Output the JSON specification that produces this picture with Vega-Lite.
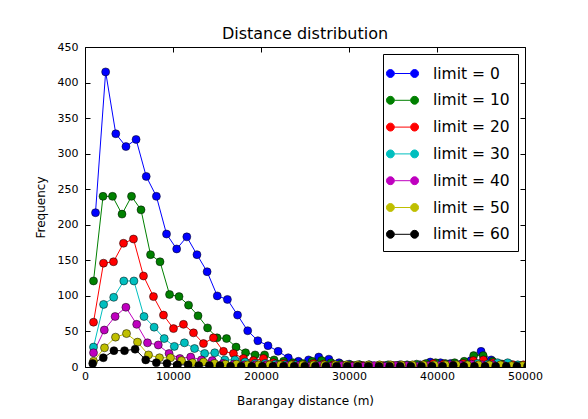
{
  "$schema": "https://vega.github.io/schema/vega-lite/v6.json",
  "width": 440,
  "height": 320,
  "autosize": "none",
  "padding": {"left": 85, "top": 47, "right": 63, "bottom": 52},
  "background": "white",
  "title": {"text": "Distance distribution", "fontSize": 16, "font": "DejaVu Sans", "fontWeight": "normal", "color": "black", "offset": -1},
  "config": {
    "view": {"stroke": "black", "strokeWidth": 1},
    "axis": {"labelFont": "DejaVu Sans", "titleFont": "DejaVu Sans", "labelColor": "black", "titleColor": "black", "tickColor": "black", "labelFontSize": 11, "titleFontSize": 12, "titleFontWeight": "normal", "grid": false, "domain": false, "labelOverlap": false, "labelFlush": false}
  },
  "data": {"values": [
{"s":"limit = 0","x":1193,"y":217},{"s":"limit = 0","x":2346,"y":415},{"s":"limit = 0","x":3499,"y":328},{"s":"limit = 0","x":4652,"y":310},{"s":"limit = 0","x":5805,"y":320},{"s":"limit = 0","x":6958,"y":268},{"s":"limit = 0","x":8111,"y":240},{"s":"limit = 0","x":9264,"y":187},{"s":"limit = 0","x":10417,"y":166},{"s":"limit = 0","x":11570,"y":183},{"s":"limit = 0","x":12723,"y":158},{"s":"limit = 0","x":13876,"y":134},{"s":"limit = 0","x":15029,"y":100},{"s":"limit = 0","x":16182,"y":95},{"s":"limit = 0","x":17335,"y":73},{"s":"limit = 0","x":18488,"y":51},{"s":"limit = 0","x":19641,"y":37},{"s":"limit = 0","x":20794,"y":30},{"s":"limit = 0","x":21947,"y":22},{"s":"limit = 0","x":23100,"y":13},{"s":"limit = 0","x":24253,"y":8},{"s":"limit = 0","x":25406,"y":10},{"s":"limit = 0","x":26559,"y":14},{"s":"limit = 0","x":27712,"y":11},{"s":"limit = 0","x":28865,"y":6},{"s":"limit = 0","x":30018,"y":4},{"s":"limit = 0","x":31171,"y":3},{"s":"limit = 0","x":32324,"y":3},{"s":"limit = 0","x":33477,"y":2},{"s":"limit = 0","x":34630,"y":2},{"s":"limit = 0","x":35783,"y":3},{"s":"limit = 0","x":36936,"y":2},{"s":"limit = 0","x":38089,"y":3},{"s":"limit = 0","x":39242,"y":7},{"s":"limit = 0","x":40395,"y":6},{"s":"limit = 0","x":41548,"y":5},{"s":"limit = 0","x":42701,"y":4},{"s":"limit = 0","x":43854,"y":9},{"s":"limit = 0","x":45007,"y":22},{"s":"limit = 0","x":46160,"y":10},{"s":"limit = 0","x":47313,"y":4},{"s":"limit = 0","x":48466,"y":3},{"s":"limit = 0","x":49619,"y":2},{"s":"limit = 0","x":50772,"y":2},
{"s":"limit = 10","x":966,"y":121},{"s":"limit = 10","x":2046,"y":240},{"s":"limit = 10","x":3126,"y":240},{"s":"limit = 10","x":4206,"y":215},{"s":"limit = 10","x":5286,"y":240},{"s":"limit = 10","x":6366,"y":221},{"s":"limit = 10","x":7446,"y":158},{"s":"limit = 10","x":8526,"y":148},{"s":"limit = 10","x":9606,"y":102},{"s":"limit = 10","x":10686,"y":99},{"s":"limit = 10","x":11766,"y":87},{"s":"limit = 10","x":12846,"y":72},{"s":"limit = 10","x":13926,"y":55},{"s":"limit = 10","x":15006,"y":41},{"s":"limit = 10","x":16086,"y":40},{"s":"limit = 10","x":17166,"y":28},{"s":"limit = 10","x":18246,"y":20},{"s":"limit = 10","x":19326,"y":17},{"s":"limit = 10","x":20406,"y":17},{"s":"limit = 10","x":21486,"y":10},{"s":"limit = 10","x":22566,"y":8},{"s":"limit = 10","x":23646,"y":6},{"s":"limit = 10","x":24726,"y":5},{"s":"limit = 10","x":25806,"y":8},{"s":"limit = 10","x":26886,"y":9},{"s":"limit = 10","x":27966,"y":6},{"s":"limit = 10","x":29046,"y":4},{"s":"limit = 10","x":30126,"y":3},{"s":"limit = 10","x":31206,"y":3},{"s":"limit = 10","x":32286,"y":2},{"s":"limit = 10","x":33366,"y":2},{"s":"limit = 10","x":34446,"y":3},{"s":"limit = 10","x":35526,"y":2},{"s":"limit = 10","x":36606,"y":3},{"s":"limit = 10","x":37686,"y":4},{"s":"limit = 10","x":38766,"y":5},{"s":"limit = 10","x":39846,"y":6},{"s":"limit = 10","x":40926,"y":5},{"s":"limit = 10","x":42006,"y":6},{"s":"limit = 10","x":43086,"y":8},{"s":"limit = 10","x":44166,"y":16},{"s":"limit = 10","x":45246,"y":16},{"s":"limit = 10","x":46326,"y":8},{"s":"limit = 10","x":47406,"y":4},{"s":"limit = 10","x":48486,"y":3},{"s":"limit = 10","x":49566,"y":2},{"s":"limit = 10","x":50646,"y":2},
{"s":"limit = 20","x":966,"y":63},{"s":"limit = 20","x":2102,"y":146},{"s":"limit = 20","x":3238,"y":148},{"s":"limit = 20","x":4374,"y":174},{"s":"limit = 20","x":5510,"y":180},{"s":"limit = 20","x":6646,"y":128},{"s":"limit = 20","x":7782,"y":99},{"s":"limit = 20","x":8918,"y":73},{"s":"limit = 20","x":10054,"y":54},{"s":"limit = 20","x":11190,"y":60},{"s":"limit = 20","x":12326,"y":48},{"s":"limit = 20","x":13462,"y":33},{"s":"limit = 20","x":14598,"y":41},{"s":"limit = 20","x":15734,"y":22},{"s":"limit = 20","x":16870,"y":19},{"s":"limit = 20","x":18006,"y":12},{"s":"limit = 20","x":19142,"y":9},{"s":"limit = 20","x":20278,"y":12},{"s":"limit = 20","x":21414,"y":6},{"s":"limit = 20","x":22550,"y":5},{"s":"limit = 20","x":23686,"y":4},{"s":"limit = 20","x":24822,"y":3},{"s":"limit = 20","x":25958,"y":5},{"s":"limit = 20","x":27094,"y":4},{"s":"limit = 20","x":28230,"y":3},{"s":"limit = 20","x":29366,"y":2},{"s":"limit = 20","x":30502,"y":2},{"s":"limit = 20","x":31638,"y":2},{"s":"limit = 20","x":32774,"y":1},{"s":"limit = 20","x":33910,"y":2},{"s":"limit = 20","x":35046,"y":2},{"s":"limit = 20","x":36182,"y":2},{"s":"limit = 20","x":37318,"y":2},{"s":"limit = 20","x":38454,"y":3},{"s":"limit = 20","x":39590,"y":5},{"s":"limit = 20","x":40726,"y":4},{"s":"limit = 20","x":41862,"y":3},{"s":"limit = 20","x":42998,"y":5},{"s":"limit = 20","x":44134,"y":9},{"s":"limit = 20","x":45270,"y":10},{"s":"limit = 20","x":46406,"y":6},{"s":"limit = 20","x":47542,"y":3},{"s":"limit = 20","x":48678,"y":3},{"s":"limit = 20","x":49814,"y":3},{"s":"limit = 20","x":50950,"y":2},
{"s":"limit = 30","x":966,"y":28},{"s":"limit = 30","x":2114,"y":88},{"s":"limit = 30","x":3262,"y":98},{"s":"limit = 30","x":4410,"y":121},{"s":"limit = 30","x":5558,"y":121},{"s":"limit = 30","x":6706,"y":71},{"s":"limit = 30","x":7854,"y":56},{"s":"limit = 30","x":9002,"y":40},{"s":"limit = 30","x":10150,"y":29},{"s":"limit = 30","x":11298,"y":34},{"s":"limit = 30","x":12446,"y":26},{"s":"limit = 30","x":13594,"y":19},{"s":"limit = 30","x":14742,"y":20},{"s":"limit = 30","x":15890,"y":10},{"s":"limit = 30","x":17038,"y":10},{"s":"limit = 30","x":18186,"y":7},{"s":"limit = 30","x":19334,"y":5},{"s":"limit = 30","x":20482,"y":5},{"s":"limit = 30","x":21630,"y":4},{"s":"limit = 30","x":22778,"y":3},{"s":"limit = 30","x":23926,"y":3},{"s":"limit = 30","x":25074,"y":2},{"s":"limit = 30","x":26222,"y":2},{"s":"limit = 30","x":27370,"y":2},{"s":"limit = 30","x":28518,"y":2},{"s":"limit = 30","x":29666,"y":1},{"s":"limit = 30","x":30814,"y":2},{"s":"limit = 30","x":31962,"y":1},{"s":"limit = 30","x":33110,"y":1},{"s":"limit = 30","x":34258,"y":2},{"s":"limit = 30","x":35406,"y":1},{"s":"limit = 30","x":36554,"y":2},{"s":"limit = 30","x":37702,"y":2},{"s":"limit = 30","x":38850,"y":2},{"s":"limit = 30","x":39998,"y":3},{"s":"limit = 30","x":41146,"y":3},{"s":"limit = 30","x":42294,"y":2},{"s":"limit = 30","x":43442,"y":3},{"s":"limit = 30","x":44590,"y":5},{"s":"limit = 30","x":45738,"y":4},{"s":"limit = 30","x":46886,"y":6},{"s":"limit = 30","x":48034,"y":6},{"s":"limit = 30","x":49182,"y":3},{"s":"limit = 30","x":50330,"y":2},
{"s":"limit = 40","x":966,"y":20},{"s":"limit = 40","x":2193,"y":52},{"s":"limit = 40","x":3420,"y":71},{"s":"limit = 40","x":4647,"y":84},{"s":"limit = 40","x":5874,"y":60},{"s":"limit = 40","x":7101,"y":34},{"s":"limit = 40","x":8328,"y":31},{"s":"limit = 40","x":9555,"y":19},{"s":"limit = 40","x":10782,"y":12},{"s":"limit = 40","x":12009,"y":14},{"s":"limit = 40","x":13236,"y":10},{"s":"limit = 40","x":14463,"y":9},{"s":"limit = 40","x":15690,"y":5},{"s":"limit = 40","x":16917,"y":4},{"s":"limit = 40","x":18144,"y":3},{"s":"limit = 40","x":19371,"y":3},{"s":"limit = 40","x":20598,"y":3},{"s":"limit = 40","x":21825,"y":2},{"s":"limit = 40","x":23052,"y":2},{"s":"limit = 40","x":24279,"y":2},{"s":"limit = 40","x":25506,"y":1},{"s":"limit = 40","x":26733,"y":2},{"s":"limit = 40","x":27960,"y":1},{"s":"limit = 40","x":29187,"y":2},{"s":"limit = 40","x":30414,"y":1},{"s":"limit = 40","x":31641,"y":1},{"s":"limit = 40","x":32868,"y":2},{"s":"limit = 40","x":34095,"y":1},{"s":"limit = 40","x":35322,"y":2},{"s":"limit = 40","x":36549,"y":2},{"s":"limit = 40","x":37776,"y":1},{"s":"limit = 40","x":39003,"y":2},{"s":"limit = 40","x":40230,"y":2},{"s":"limit = 40","x":41457,"y":3},{"s":"limit = 40","x":42684,"y":3},{"s":"limit = 40","x":43911,"y":4},{"s":"limit = 40","x":45138,"y":3},{"s":"limit = 40","x":46365,"y":3},{"s":"limit = 40","x":47592,"y":2},{"s":"limit = 40","x":48819,"y":1},{"s":"limit = 40","x":50046,"y":1},
{"s":"limit = 50","x":966,"y":8},{"s":"limit = 50","x":2216,"y":27},{"s":"limit = 50","x":3466,"y":42},{"s":"limit = 50","x":4716,"y":47},{"s":"limit = 50","x":5966,"y":35},{"s":"limit = 50","x":7216,"y":17},{"s":"limit = 50","x":8466,"y":13},{"s":"limit = 50","x":9716,"y":13},{"s":"limit = 50","x":10966,"y":9},{"s":"limit = 50","x":12216,"y":6},{"s":"limit = 50","x":13466,"y":7},{"s":"limit = 50","x":14716,"y":5},{"s":"limit = 50","x":15966,"y":4},{"s":"limit = 50","x":17216,"y":4},{"s":"limit = 50","x":18466,"y":3},{"s":"limit = 50","x":19716,"y":3},{"s":"limit = 50","x":20966,"y":3},{"s":"limit = 50","x":22216,"y":3},{"s":"limit = 50","x":23466,"y":3},{"s":"limit = 50","x":24716,"y":3},{"s":"limit = 50","x":25966,"y":3},{"s":"limit = 50","x":27216,"y":3},{"s":"limit = 50","x":28466,"y":3},{"s":"limit = 50","x":29716,"y":3},{"s":"limit = 50","x":30966,"y":3},{"s":"limit = 50","x":32216,"y":3},{"s":"limit = 50","x":33466,"y":3},{"s":"limit = 50","x":34716,"y":3},{"s":"limit = 50","x":35966,"y":3},{"s":"limit = 50","x":37216,"y":3},{"s":"limit = 50","x":38466,"y":3},{"s":"limit = 50","x":39716,"y":3},{"s":"limit = 50","x":40966,"y":3},{"s":"limit = 50","x":42216,"y":3},{"s":"limit = 50","x":43466,"y":3},{"s":"limit = 50","x":44716,"y":3},{"s":"limit = 50","x":45966,"y":3},{"s":"limit = 50","x":47216,"y":3},{"s":"limit = 50","x":48466,"y":2},{"s":"limit = 50","x":49716,"y":2},{"s":"limit = 50","x":50966,"y":2},
{"s":"limit = 60","x":875,"y":5},{"s":"limit = 60","x":2080,"y":13},{"s":"limit = 60","x":3285,"y":23},{"s":"limit = 60","x":4490,"y":23},{"s":"limit = 60","x":5695,"y":25},{"s":"limit = 60","x":6900,"y":10},{"s":"limit = 60","x":8105,"y":6},{"s":"limit = 60","x":9310,"y":5},{"s":"limit = 60","x":10515,"y":3},{"s":"limit = 60","x":11720,"y":3},{"s":"limit = 60","x":12925,"y":2},{"s":"limit = 60","x":14130,"y":2},{"s":"limit = 60","x":15335,"y":2},{"s":"limit = 60","x":16540,"y":1},{"s":"limit = 60","x":17745,"y":1},{"s":"limit = 60","x":18950,"y":1},{"s":"limit = 60","x":20155,"y":1},{"s":"limit = 60","x":21360,"y":1},{"s":"limit = 60","x":22565,"y":1},{"s":"limit = 60","x":23770,"y":1},{"s":"limit = 60","x":24975,"y":1},{"s":"limit = 60","x":26180,"y":1},{"s":"limit = 60","x":27385,"y":1},{"s":"limit = 60","x":28590,"y":1},{"s":"limit = 60","x":29795,"y":1},{"s":"limit = 60","x":31000,"y":1},{"s":"limit = 60","x":32205,"y":1},{"s":"limit = 60","x":33410,"y":1},{"s":"limit = 60","x":34615,"y":1},{"s":"limit = 60","x":35820,"y":1},{"s":"limit = 60","x":37025,"y":1},{"s":"limit = 60","x":38230,"y":1},{"s":"limit = 60","x":39435,"y":1},{"s":"limit = 60","x":40640,"y":1},{"s":"limit = 60","x":41845,"y":2},{"s":"limit = 60","x":43050,"y":1},{"s":"limit = 60","x":44255,"y":1},{"s":"limit = 60","x":45460,"y":1},{"s":"limit = 60","x":46665,"y":1},{"s":"limit = 60","x":47870,"y":1},{"s":"limit = 60","x":49075,"y":1},{"s":"limit = 60","x":50280,"y":1}
  ]},
  "layer": [
    {
      "mark": {"type": "line", "strokeWidth": 1, "clip": true},
      "encoding": {
        "x": {"field": "x", "type": "quantitative", "scale": {"domain": [0, 50000], "nice": false, "zero": false},
              "axis": {"orient": "bottom", "values": [0, 10000, 20000, 30000, 40000, 50000], "format": "d", "title": "Barangay distance (m)", "tickSize": -5, "labelPadding": 8, "titlePadding": 14}},
        "y": {"field": "y", "type": "quantitative", "scale": {"domain": [0, 450], "nice": false},
              "axis": {"orient": "left", "values": [0, 50, 100, 150, 200, 250, 300, 350, 400, 450], "title": "Frequency", "tickSize": -5, "labelPadding": 12, "titlePadding": 10}},
        "color": {"field": "s", "type": "nominal",
                  "scale": {"domain": ["limit = 0", "limit = 10", "limit = 20", "limit = 30", "limit = 40", "limit = 50", "limit = 60"],
                            "range": ["#0000ff", "#008000", "#ff0000", "#00bfbf", "#bf00bf", "#bfbf00", "#000000"]},
                  "legend": {"orient": "none", "legendX": 298, "legendY": 7, "title": null, "strokeColor": "black", "padding": 8,
                             "symbolType": "M-1.46,0A0.36,0.36 0 1 1 -0.74,0A0.36,0.36 0 1 1 -1.46,0ZM0.74,0A0.36,0.36 0 1 1 1.46,0A0.36,0.36 0 1 1 0.74,0ZM-0.74,0L0.74,0",
                             "symbolSize": 484, "symbolStrokeWidth": 1, "labelFont": "DejaVu Sans", "labelFontSize": 15.5, "labelColor": "black", "labelOffset": 19, "rowPadding": 6.8,
                             "encode": {"symbols": {"update": {"stroke": {"scale": "color", "field": "value"}, "fill": {"scale": "color", "field": "value"}, "opacity": {"value": 1}}}}}}
      }
    },
    {
      "mark": {"type": "point", "filled": true, "size": 64, "stroke": "black", "strokeWidth": 0.5, "opacity": 1, "clip": true},
      "encoding": {
        "x": {"field": "x", "type": "quantitative", "axis": null},
        "y": {"field": "y", "type": "quantitative", "axis": null},
        "color": {"field": "s", "type": "nominal"}
      }
    },
    {
      "mark": {"type": "point", "opacity": 0},
      "encoding": {
        "x": {"field": "x", "type": "quantitative", "axis": {"orient": "top", "values": [0, 10000, 20000, 30000, 40000, 50000], "labels": false, "title": null, "tickSize": -5}},
        "y": {"field": "y", "type": "quantitative", "axis": {"orient": "right", "values": [0, 50, 100, 150, 200, 250, 300, 350, 400, 450], "labels": false, "title": null, "tickSize": -5}}
      }
    }
  ],
  "resolve": {"axis": {"x": "independent", "y": "independent"}}
}
